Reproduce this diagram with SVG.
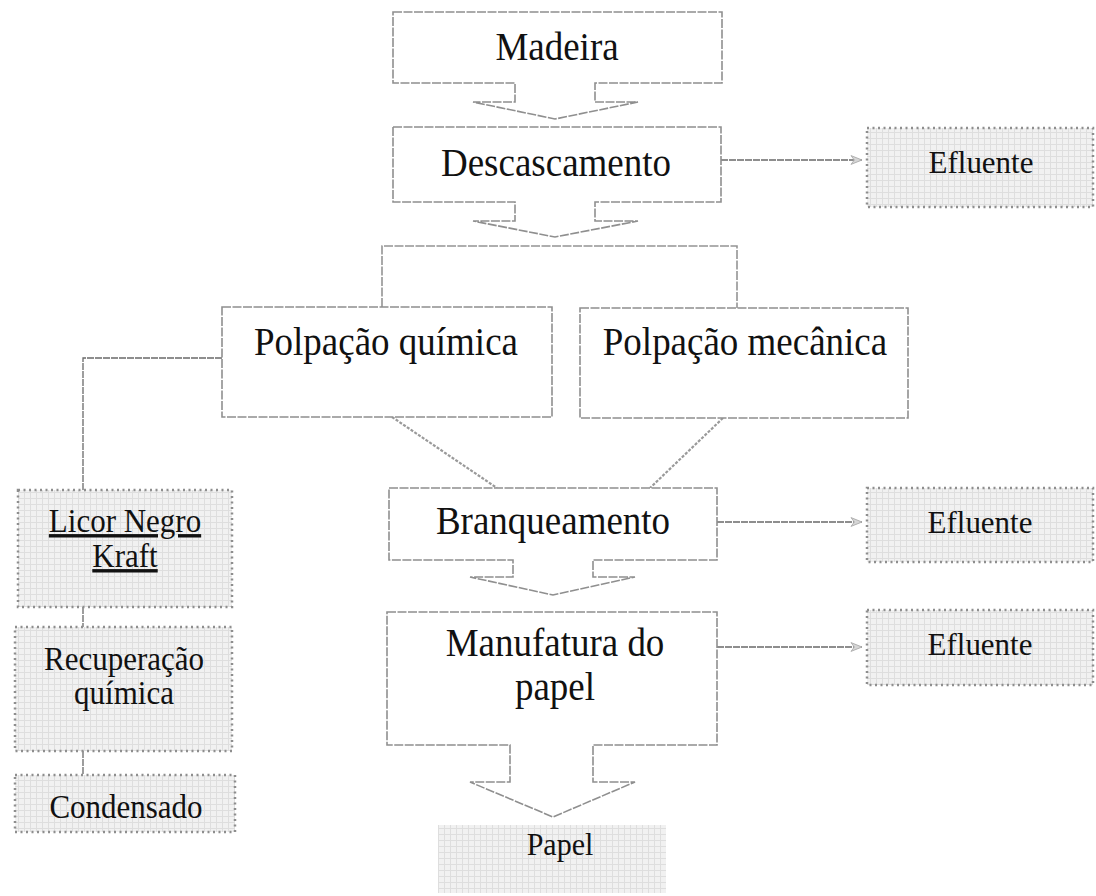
<svg xmlns="http://www.w3.org/2000/svg" width="1096" height="896" viewBox="0 0 1096 896">
<style>
.main{fill:#ffffff;stroke:#8f8f8f;stroke-width:1.6;stroke-dasharray:9 1.5}
.grey{fill:url(#grid);stroke:#8e8e8e;stroke-width:2.5;stroke-dasharray:2 3.5}
.plain{fill:url(#grid);stroke:none}
.conn{fill:none;stroke:#6a6a6a;stroke-width:1.3;stroke-dasharray:7 1}
.brk{fill:none;stroke:#949494;stroke-width:1.6;stroke-dasharray:9 1.5}
.diag{fill:none;stroke:#9a9a9a;stroke-width:2.2;stroke-dasharray:3 1.5}
.t{font-family:"Liberation Serif","Times New Roman",serif;fill:#111111;text-anchor:middle}
.big{font-size:37px}
.sm{font-size:31px}
</style>
<defs>
<pattern id="grid" width="6" height="6" patternUnits="userSpaceOnUse">
<rect width="6" height="6" fill="#f1f1f1"/>
<path d="M0 0.5H6M0.5 0V6" stroke="#dedede" stroke-width="1"/>
</pattern>
<marker id="ah" viewBox="0 0 10 10" refX="10" refY="5" markerWidth="15" markerHeight="11" markerUnits="userSpaceOnUse" orient="auto">
<path d="M0,1 L10,5 L0,9 L3,5 Z" fill="#d6d6d6" stroke="#aaaaaa" stroke-width="0.8"/>
</marker>
</defs>

<g id="connectors">
<path class="brk" d="M382,307 V246 H737 V308"/>
<path class="diag" d="M392,417 L497,488"/>
<path class="diag" d="M723,418 L650,488"/>
<path class="conn" d="M222,358 H83 V490"/>
<path class="conn" d="M83,607 V627"/>
<path class="conn" d="M83,751 V775"/>
<path class="conn" d="M721,160 H862" marker-end="url(#ah)"/>
<path class="conn" d="M717,522 H862" marker-end="url(#ah)"/>
<path class="conn" d="M717,647 H862" marker-end="url(#ah)"/>
</g>

<g id="madeira">
<path class="main" d="M393,12 H722 V83 H595 V102 H638 L555,119 L473,102 H515 V83 H393 Z"/>
<text class="t big" transform="translate(557 60) scale(1 1.1)">Madeira</text>
</g>

<g id="descascamento">
<path class="main" d="M393,127 H721 V202 H595 V221 H638 L555,237 L473,221 H515 V202 H393 Z"/>
<text class="t big" transform="translate(556 176) scale(1 1.1)">Descascamento</text>
</g>

<g id="efluente1">
<rect class="grey" x="867" y="128" width="226" height="79"/>
<text class="t sm" transform="translate(981 173) scale(1 1.05)">Efluente</text>
</g>

<g id="polpacao-quimica">
<rect class="main" x="222" y="307" width="330" height="110"/>
<text class="t big" transform="translate(386 355) scale(1 1.1)">Polpação química</text>
</g>

<g id="polpacao-mecanica">
<rect class="main" x="580" y="308" width="328" height="110"/>
<text class="t big" transform="translate(745 355) scale(1 1.1)">Polpação mecânica</text>
</g>

<g id="branqueamento">
<path class="main" d="M389,488 H717 V560 H593 V577 H635 L553,595 L470,577 H513 V560 H389 Z"/>
<text class="t big" transform="translate(553 534) scale(1 1.1)">Branqueamento</text>
</g>

<g id="efluente2">
<rect class="grey" x="867" y="488" width="226" height="74"/>
<text class="t sm" transform="translate(980 533) scale(1 1.05)">Efluente</text>
</g>

<g id="manufatura">
<path class="main" d="M387,612 H717 V745 H593 V782 H635 L553,817 L470,782 H510 V745 H387 Z"/>
<text class="t big" transform="translate(555 656) scale(1 1.1)">Manufatura do</text>
<text class="t big" transform="translate(555 700) scale(1 1.1)">papel</text>
</g>

<g id="efluente3">
<rect class="grey" x="867" y="610" width="226" height="75"/>
<text class="t sm" transform="translate(980 655) scale(1 1.05)">Efluente</text>
</g>

<g id="papel">
<rect class="plain" x="438" y="825" width="228" height="68"/>
<text class="t" font-size="30" transform="translate(560 855) scale(1 1.05)">Papel</text>
</g>

<g id="licor">
<rect class="grey" x="18" y="490" width="214" height="117"/>
<text class="t sm" text-decoration="underline" transform="translate(125 532) scale(1 1.1)">Licor Negro</text>
<text class="t sm" text-decoration="underline" transform="translate(125 567) scale(1 1.1)">Kraft</text>
</g>

<g id="recuperacao">
<rect class="grey" x="15" y="627" width="217" height="124"/>
<text class="t sm" transform="translate(124 670) scale(1 1.1)">Recuperação</text>
<text class="t sm" transform="translate(124 704) scale(1 1.1)">química</text>
</g>

<g id="condensado">
<rect class="grey" x="15" y="775" width="220" height="57"/>
<text class="t sm" transform="translate(126 818) scale(1 1.1)">Condensado</text>
</g>
</svg>
